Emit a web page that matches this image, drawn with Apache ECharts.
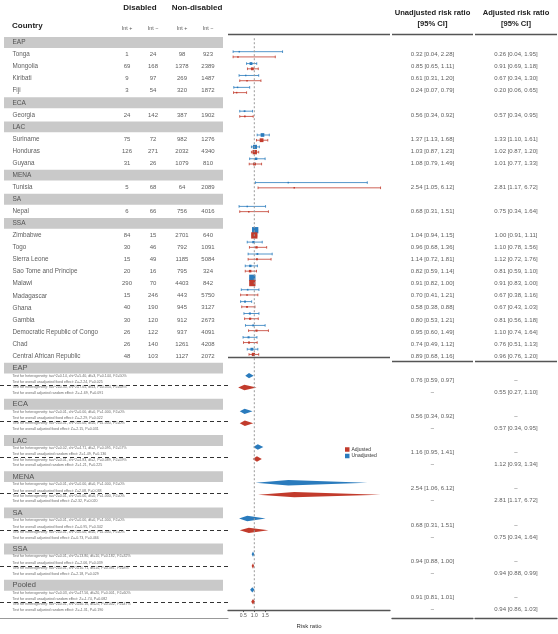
<!DOCTYPE html>
<html><head><meta charset="utf-8">
<script src="https://cdn.jsdelivr.net/npm/echarts@6/dist/echarts.min.js"></script>
<style>html,body{margin:0;padding:0;background:#fff}#c{width:558px;height:634px}</style>
</head><body><div id="c"></div>
<script>
// ---------------- DATA ----------------
const regions = ['EAP','ECA','LAC','MENA','SA','SSA'];
const countryRegion = ['EAP','EAP','EAP','EAP','ECA','LAC','LAC','LAC','MENA','SA',
  'SSA','SSA','SSA','SSA','SSA','SSA','SSA','SSA','SSA','SSA','SSA'];
const countries = ['Tonga','Mongolia','Kiribati','Fiji','Georgia','Suriname','Honduras','Guyana','Tunisia','Nepal',
  'Zimbabwe','Togo','Sierra Leone','Sao Tome and Principe','Malawi','Madagascar','Ghana','Gambia',
  'Democratic Republic of Congo','Chad','Central African Republic'];
const disabledPos = [1,69,9,3,24,75,126,31,5,6,84,30,15,20,290,15,40,30,26,26,48];
const disabledNeg = [24,168,97,54,142,72,271,26,68,66,15,46,49,16,70,246,190,120,122,140,103];
const nonDisPos = [98,1378,269,320,387,982,2032,1079,64,756,2701,792,1185,795,4403,443,945,912,937,1261,1127];
const nonDisNeg = [923,2389,1487,1872,1902,1276,4340,810,2089,4016,640,1091,5084,324,842,5750,3127,2673,4091,4208,2072];
const unadjEst = [0.32,0.85,0.61,0.24,0.56,1.37,1.03,1.08,2.54,0.68,1.04,0.96,1.14,0.82,0.91,0.70,0.58,0.80,0.95,0.74,0.89];
const unadjLo  = [0.04,0.65,0.31,0.07,0.34,1.13,0.87,0.79,1.05,0.31,0.94,0.68,0.72,0.59,0.82,0.41,0.38,0.53,0.60,0.49,0.68];
const unadjHi  = [2.28,1.11,1.20,0.79,0.92,1.68,1.23,1.49,6.12,1.51,1.15,1.36,1.81,1.14,1.00,1.21,0.88,1.21,1.49,1.12,1.16];
const adjEst   = [0.26,0.91,0.67,0.20,0.57,1.33,1.02,1.01,2.81,0.75,1.00,1.10,1.12,0.81,0.91,0.67,0.67,0.81,1.10,0.76,0.96];
const adjLo    = [0.04,0.69,0.34,0.06,0.34,1.10,0.87,0.77,1.17,0.34,0.91,0.78,0.72,0.59,0.83,0.38,0.43,0.56,0.74,0.51,0.76];
const adjHi    = [1.95,1.18,1.30,0.65,0.95,1.61,1.20,1.33,6.72,1.64,1.11,1.56,1.76,1.10,1.00,1.16,1.03,1.18,1.64,1.13,1.20];

const summaryLabels = ['EAP','ECA','LAC','MENA','SA','SSA','Pooled'];
const sumUnadjEst = [0.76,0.56,1.16,2.54,0.68,0.94,0.91];
const sumUnadjLo  = [0.59,0.34,0.95,1.06,0.31,0.88,0.81];
const sumUnadjHi  = [0.97,0.92,1.41,6.12,1.51,1.00,1.01];
const sumAdjEst   = [0.55,0.57,1.12,2.81,0.75,0.94,0.94];
const sumAdjLo    = [0.27,0.34,0.93,1.17,0.34,0.88,0.86];
const sumAdjHi    = [1.10,0.95,1.34,6.72,1.64,0.99,1.03];
const hetUnadj = [
 'Test for heterogeneity: tau^2=0.14, chi^2=5.40, df=3, P=0.144, I^2=50%',
 'Test for heterogeneity: tau^2=0.01, chi^2=0.00, df=0, P=1.000, I^2=0%',
 'Test for heterogeneity: tau^2=0.02, chi^2=4.71, df=2, P=0.095, I^2=57%',
 'Test for heterogeneity: tau^2=0.01, chi^2=0.00, df=0, P=1.000, I^2=0%',
 'Test for heterogeneity: tau^2=0.01, chi^2=0.00, df=0, P=1.000, I^2=0%',
 'Test for heterogeneity: tau^2=0.01, chi^2=13.80, df=10, P=0.182, I^2=32%',
 'Test for heterogeneity: tau^2=0.03, chi^2=47.56, df=20, P=0.001, I^2=60%'];
const overallUnadj = [
 'Test for overall unadjusted fixed effect: Z=-2.24, P=0.025',
 'Test for overall unadjusted fixed effect: Z=-2.29, P=0.022',
 'Test for overall unadjusted random effect: Z=1.49, P=0.136',
 'Test for overall unadjusted fixed effect: Z=2.08, P=0.038',
 'Test for overall unadjusted fixed effect: Z=-0.95, P=0.342',
 'Test for overall unadjusted fixed effect: Z=-2.06, P=0.039',
 'Test for overall unadjusted random effect: Z=-1.74, P=0.082'];
const hetAdj = [
 'Test for heterogeneity: tau^2=0.30, chi^2=7.65, df=3, P=0.054, I^2=68%',
 'Test for heterogeneity: tau^2=0.01, chi^2=0.00, df=0, P=1.000, I^2=0%',
 'Test for heterogeneity: tau^2=0.01, chi^2=4.83, df=2, P=0.089, I^2=59%',
 'Test for heterogeneity: tau^2=0.01, chi^2=0.00, df=0, P=1.000, I^2=0%',
 'Test for heterogeneity: tau^2=0.01, chi^2=0.00, df=0, P=1.000, I^2=0%',
 'Test for heterogeneity: tau^2=0.01, chi^2=10.71, df=10, P=0.381, I^2=8%',
 'Test for heterogeneity: tau^2=0.01, chi^2=40.16, df=20, P=0.002, I^2=47%'];
const overallAdj = [
 'Test for overall adjusted random effect: Z=-1.69, P=0.091',
 'Test for overall adjusted fixed effect: Z=-2.15, P=0.031',
 'Test for overall adjusted random effect: Z=1.21, P=0.225',
 'Test for overall adjusted fixed effect: Z=2.32, P=0.020',
 'Test for overall adjusted fixed effect: Z=-0.73, P=0.466',
 'Test for overall adjusted fixed effect: Z=-2.18, P=0.029',
 'Test for overall adjusted random effect: Z=-1.31, P=0.190'];
const xTickValues = [0.5, 1.0, 1.5];

// ---------------- LAYOUT ----------------
const BLUE = '#2a7bbd', RED = '#c23b2c';
const T = 34.06, H = 583.7, Y_MIN = -0.7, Y_MAX = 47.7;
const OFF = 0.22;

let row = 0;
const bandRows = [], countryRow = [];
regions.forEach(r => {
  bandRows.push({ label: r, row: row }); row++;
  countries.forEach((c, i) => { if (countryRegion[i] === r) { countryRow[i] = row; row++; } });
});
const summaryRow = summaryLabels.map((s, k) => row + 3 * k);

const fmt = (e, l, h) => e.toFixed(2) + ' [' + l.toFixed(2) + ', ' + h.toFixed(2) + ']';
const sqSize = (l, h) => {
  const se = (Math.log(h) - Math.log(l)) / 3.92;
  return Math.max(1.5, Math.min(6.3, 0.32 / se + 0.5));
};

// left table texts
const leftText = [], centerText = [], bands = [], dashes = [];
bandRows.forEach(b => {
  leftText.push({ value: [12, b.row], name: b.label, label: { fontSize: 6.5 } });
  bands.push([{ xAxis: 4, yAxis: b.row - 0.45 }, { xAxis: 223, yAxis: b.row + 0.45 }]);
});
countries.forEach((c, i) => {
  const r = countryRow[i];
  leftText.push({ value: [12, r], name: c, label: { fontSize: 6.3 } });
  [disabledPos[i], disabledNeg[i], nonDisPos[i], nonDisNeg[i]].forEach((v, j) => {
    centerText.push({ value: [[127, 153, 182, 208][j], r], name: String(v) });
  });
});
summaryLabels.forEach((s, k) => {
  const r = summaryRow[k];
  leftText.push({ value: [12, r], name: s, label: { fontSize: 7.5 } });
  bands.push([{ xAxis: 4, yAxis: r - 0.45 }, { xAxis: 223, yAxis: r + 0.45 }]);
  const small = { fontSize: 3.6, color: '#444' };
  leftText.push({ value: [12, r + 0.62], name: hetUnadj[k], label: small });
  leftText.push({ value: [12, r + 1.16], name: overallUnadj[k], label: small });
  leftText.push({ value: [12, r + 1.58], name: hetAdj[k], label: small });
  leftText.push({ value: [12, r + 2.05], name: overallAdj[k], label: small });
  dashes.push([{ coord: [0, r + 1.41] }, { coord: [228, r + 1.41] }]);
});

// right columns
const colUnadj = [], colAdj = [];
countries.forEach((c, i) => {
  colUnadj.push({ value: [0.5, countryRow[i]], name: fmt(unadjEst[i], unadjLo[i], unadjHi[i]) });
  colAdj.push({ value: [0.5, countryRow[i]], name: fmt(adjEst[i], adjLo[i], adjHi[i]) });
});
summaryLabels.forEach((s, k) => {
  const r = summaryRow[k];
  colUnadj.push({ value: [0.5, r + 1], name: fmt(sumUnadjEst[k], sumUnadjLo[k], sumUnadjHi[k]) });
  colUnadj.push({ value: [0.5, r + 2], name: '–' });
  colAdj.push({ value: [0.5, r + 1], name: '–' });
  colAdj.push({ value: [0.5, r + 2], name: fmt(sumAdjEst[k], sumAdjLo[k], sumAdjHi[k]) });
});

// forest data
const ciUnadj = countries.map((c, i) => [unadjEst[i], unadjLo[i], unadjHi[i], countryRow[i] - OFF, sqSize(unadjLo[i], unadjHi[i])]);
const ciAdj = countries.map((c, i) => [adjEst[i], adjLo[i], adjHi[i], countryRow[i] + OFF, sqSize(adjLo[i], adjHi[i])]);
const dmUnadj = summaryLabels.map((s, k) => [sumUnadjEst[k], sumUnadjLo[k], sumUnadjHi[k], summaryRow[k] + 1]);
const dmAdj = summaryLabels.map((s, k) => [sumAdjEst[k], sumAdjLo[k], sumAdjHi[k], summaryRow[k] + 2]);

function ciRender(params, api) {
  const est = api.value(0), lo = api.value(1), hi = api.value(2), y = api.value(3), sz = api.value(4);
  const a = api.coord([lo, y]), b = api.coord([hi, y]), e = api.coord([est, y]);
  const col = api.visual('color'), cap = 1.3, lw = 0.8;
  return { type: 'group', children: [
    { type: 'line', shape: { x1: a[0], y1: a[1], x2: b[0], y2: b[1] }, style: { stroke: col, lineWidth: lw } },
    { type: 'line', shape: { x1: a[0], y1: a[1] - cap, x2: a[0], y2: a[1] + cap }, style: { stroke: col, lineWidth: lw } },
    { type: 'line', shape: { x1: b[0], y1: b[1] - cap, x2: b[0], y2: b[1] + cap }, style: { stroke: col, lineWidth: lw } },
    { type: 'rect', shape: { x: e[0] - sz / 2, y: e[1] - sz / 2, width: sz, height: sz }, style: { fill: col } }
  ] };
}
function dmRender(params, api) {
  const est = api.value(0), lo = api.value(1), hi = api.value(2), y = api.value(3);
  const a = api.coord([lo, y]), b = api.coord([hi, y]), e = api.coord([est, y]);
  const h = 2.7;
  return { type: 'polygon', shape: { points: [[a[0], a[1]], [e[0], e[1] - h], [b[0], b[1]], [e[0], e[1] + h]] },
    style: { fill: api.visual('color') } };
}

const sepLines = {
  symbol: 'none', silent: true, label: { show: false },
  lineStyle: { color: '#555', width: 1.3, type: 'solid' },
  data: [{ yAxis: -0.67 }, { yAxis: 26.45 }]
};
const yAx = i => ({ gridIndex: i, type: 'value', inverse: true, min: Y_MIN, max: Y_MAX, show: false });
const textSeries = (xi, data, pos, extra) => Object.assign({
  type: 'scatter', xAxisIndex: xi, yAxisIndex: xi, data: data, symbolSize: 1, silent: true,
  itemStyle: { color: 'rgba(0,0,0,0)' },
  label: { show: true, formatter: '{b}', position: pos, distance: 0, fontSize: 6, color: '#333' }
}, extra || {});

const hdr = (text, x, y, size, weight, align, color) => ({
  type: 'text', x: x, y: y, silent: true,
  style: { text: text, fontSize: size, fontWeight: weight, fill: color || '#222', textAlign: align, textVerticalAlign: 'middle',
    fontFamily: 'Liberation Sans, Arial, sans-serif' }
});

const option = {
  animation: false,
  textStyle: { fontFamily: 'Liberation Sans, Arial, Helvetica, sans-serif' },
  grid: [
    { left: 0, top: T, width: 228, height: H },
    { left: 228, top: T, width: 162, height: H },
    { left: 392, top: T, width: 81, height: H },
    { left: 475, top: T, width: 82, height: H }
  ],
  xAxis: [
    { gridIndex: 0, type: 'value', min: 0, max: 228, splitLine: { show: false }, axisTick: { show: false }, axisLabel: { show: false },
      axisLine: { show: true, onZero: false, lineStyle: { color: '#999', width: 1 } } },
    { gridIndex: 1, type: 'value', min: -0.192, max: 7.149, splitLine: { show: false },
      axisLine: { show: true, onZero: false, lineStyle: { color: '#555', width: 1.3 } },
      axisTick: { show: true, customValues: xTickValues, length: 2, lineStyle: { color: '#555' } },
      axisLabel: { show: true, customValues: xTickValues, formatter: v => v.toFixed(1), fontSize: 5, color: '#555', margin: 3 },
      name: 'Risk ratio', nameLocation: 'middle', nameGap: 11, nameTextStyle: { fontSize: 6, color: '#333' } },
    { gridIndex: 2, type: 'value', min: 0, max: 1, splitLine: { show: false }, axisTick: { show: false }, axisLabel: { show: false },
      axisLine: { show: true, onZero: false, lineStyle: { color: '#555', width: 1.3 } } },
    { gridIndex: 3, type: 'value', min: 0, max: 1, splitLine: { show: false }, axisTick: { show: false }, axisLabel: { show: false },
      axisLine: { show: true, onZero: false, lineStyle: { color: '#555', width: 1.3 } } }
  ],
  yAxis: [yAx(0), yAx(1), yAx(2), yAx(3)],
  legend: {
    left: 340, top: 442, orient: 'vertical', itemWidth: 4.5, itemHeight: 4.5, itemGap: 1.5,
    icon: 'rect', data: ['Adjusted', 'Unadjusted'], textStyle: { fontSize: 5, color: '#333', padding: [0, 0, 0, -3] }, selectedMode: false
  },
  graphic: [
    hdr('Disabled', 140, 8, 8, 'bold', 'center'),
    hdr('Non-disabled', 197, 8, 8, 'bold', 'center'),
    hdr('Country', 12, 26, 8, 'bold', 'left'),
    hdr('Int +', 127, 29, 5.3, 'normal', 'center', '#555'),
    hdr('Int −', 153, 29, 5.3, 'normal', 'center', '#555'),
    hdr('Int +', 182, 29, 5.3, 'normal', 'center', '#555'),
    hdr('Int −', 208, 29, 5.3, 'normal', 'center', '#555'),
    hdr('Unadjusted risk ratio', 432.5, 13, 7.6, 'bold', 'center'),
    hdr('[95% CI]', 432.5, 24, 7.6, 'bold', 'center'),
    hdr('Adjusted risk ratio', 516, 13, 7.6, 'bold', 'center'),
    hdr('[95% CI]', 516, 24, 7.6, 'bold', 'center')
  ],
  series: [
    textSeries(0, leftText, 'right', {
      markArea: { silent: true, itemStyle: { color: '#c9c9c9' }, data: bands },
      markLine: { symbol: 'none', silent: true, label: { show: false },
        lineStyle: { color: '#333', width: 1, type: [4, 3] }, data: dashes }
    }),
    textSeries(0, centerText, 'inside'),
    textSeries(2, colUnadj, 'inside', { markLine: sepLines }),
    textSeries(3, colAdj, 'inside', { markLine: sepLines }),
    { type: 'line', xAxisIndex: 1, yAxisIndex: 1, data: [[1, -0.35], [1, 47.6]], symbol: 'none', silent: true,
      lineStyle: { color: '#999', width: 1, type: [2, 2] }, markLine: sepLines },
    { name: 'Unadjusted', type: 'custom', xAxisIndex: 1, yAxisIndex: 1, data: ciUnadj, renderItem: ciRender,
      itemStyle: { color: BLUE }, encode: { x: [0, 1, 2], y: 3 }, silent: true },
    { name: 'Adjusted', type: 'custom', xAxisIndex: 1, yAxisIndex: 1, data: ciAdj, renderItem: ciRender,
      itemStyle: { color: RED }, encode: { x: [0, 1, 2], y: 3 }, silent: true },
    { name: 'Unadjusted', type: 'custom', xAxisIndex: 1, yAxisIndex: 1, data: dmUnadj, renderItem: dmRender,
      itemStyle: { color: BLUE }, encode: { x: [0, 1, 2], y: 3 }, silent: true },
    { name: 'Adjusted', type: 'custom', xAxisIndex: 1, yAxisIndex: 1, data: dmAdj, renderItem: dmRender,
      itemStyle: { color: RED }, encode: { x: [0, 1, 2], y: 3 }, silent: true }
  ]
};
const chart = echarts.init(document.getElementById('c'), null, { renderer: 'canvas' });
chart.setOption(option);
</script>
</body></html>
